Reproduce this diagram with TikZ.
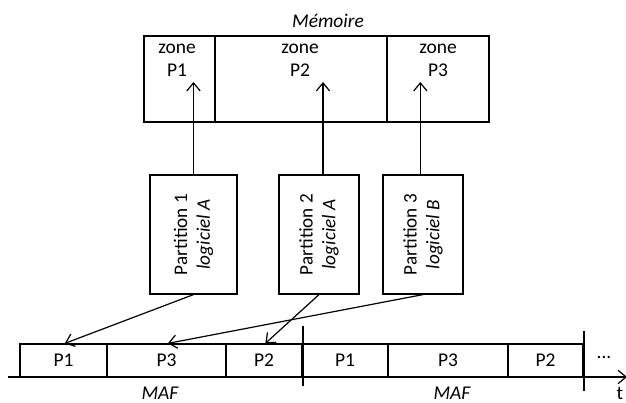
\documentclass[tikz,border=0pt]{standalone}
\usepackage{fontspec}
\setmainfont{Carlito}
\usetikzlibrary{arrows.meta}
\begin{document}
\begin{tikzpicture}[x=0.75pt,y=-0.75pt,line width=0.9pt,
  txt/.style={font=\fontsize{14.6}{17.25}\selectfont, inner sep=0pt},
  arr/.style={-{Straight Barb[length=6pt,width=10pt,line width=0.9pt]}},
  zonebox/.style={draw, inner sep=0pt, minimum height=64.5pt},
  partbox/.style={draw, inner sep=0pt, minimum height=89.25pt},
  cell/.style={draw, inner sep=0pt, minimum height=24.75pt,
    font=\fontsize{14.6}{17.25}\selectfont},
  partlabel/.style={rotate=90, align=center, inner sep=0pt,
    font=\fontsize{14.4}{17}\selectfont},
  divider/.style={line width=1.4pt}]
\useasboundingbox (0,0) rectangle (626,403);

% memory with its three zones
\node[txt, anchor=base] (mem) at (328,28) {\itshape Mémoire};
\node[zonebox, minimum width=53.25pt] (z1) at (179.5,79) {};
\node[zonebox, minimum width=129pt]   (z2) at (301,79) {};
\node[zonebox, minimum width=76.5pt]  (z3) at (438,79) {};
\node[txt, anchor=base, align=center] (zl1) at (177,77) {zone\\P1};
\node[txt, anchor=base, align=center] (zl2) at (300,77) {zone\\P2};
\node[txt, anchor=base, align=center] (zl3) at (438,77) {zone\\P3};
\coordinate (tipline) at (0,82);

% partitions
\node[partbox, minimum width=65.25pt] (pa1) at (193.5,234.5) {};
\node[partbox, minimum width=60pt]    (pa2) at (319,234.5) {};
\node[partbox, minimum width=60pt]    (pa3) at (423,234.5) {};
\node[partlabel] (pl1) at (pa1.center) {Partition 1\\\itshape logiciel A};
\node[partlabel] (pl2) at (pa2.center) {Partition 2\\\itshape logiciel A};
\node[partlabel] (pl3) at (pa3.center) {Partition 3\\\itshape logiciel B};

% each partition writes into its own zone
\draw[arr] (pa1.north) -- (pa1.north |- tipline);
\draw[arr] ([xshift=3pt]pa2.north) -- ([xshift=3pt]pa2.north |- tipline);
\draw[arr] ([xshift=-2pt]pa3.north) -- ([xshift=-2pt]pa3.north |- tipline);

% time axis with two major frames
\coordinate (axs) at (8,377);
\coordinate (axe) at (627,377);
\draw[arr] (axs) -- (axe);
\node[cell, minimum width=65.25pt] (c1) at (63.5,360.5) {P1};
\node[cell, minimum width=89.25pt] (c2) at (166.5,360.5) {P3};
\node[cell, minimum width=57pt]    (c3) at (264,360.5) {P2};
\node[cell, minimum width=64.5pt]  (c4) at (345,360.5) {P1};
\node[cell, minimum width=90pt]    (c5) at (448,360.5) {P3};
\node[cell, minimum width=56.25pt] (c6) at (545.5,360.5) {P2};
\draw[divider] ([yshift=12.75pt]c3.north east) -- ([yshift=-6pt]c3.south east);
\draw[divider] ([yshift=9pt]c6.north east) -- ([yshift=-9.75pt]c6.south east);
\node[txt] (dots) at (604,357) {...};
\node[txt, anchor=base] (tl) at (620,399) {t};
\node[txt, anchor=base] (maf1) at (160,399) {\itshape MAF};
\node[txt, anchor=base] (maf2) at (452,399) {\itshape MAF};

% schedule slots assigned to partitions
\draw[arr] (pa1.south) -- ([xshift=1pt]c1.north);
\draw[arr] (pa3.south) -- ([xshift=1pt]c2.north);
\draw[arr] (pa2.south) -- ([xshift=1pt]c3.north);
\end{tikzpicture}
\end{document}
